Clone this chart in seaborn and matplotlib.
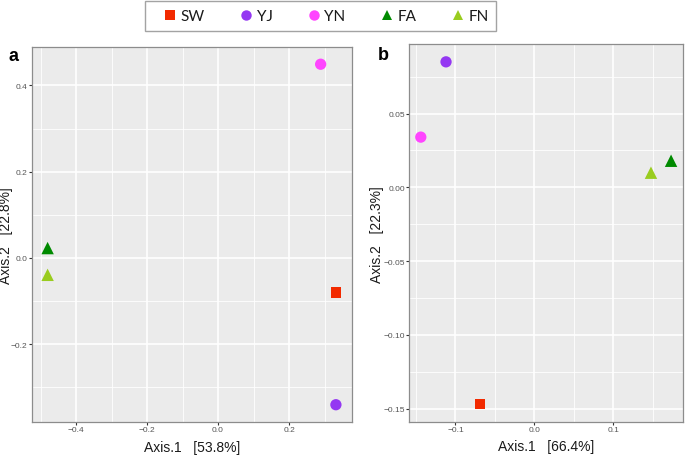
import numpy as np
import pandas as pd
import matplotlib
matplotlib.use("Agg")
import matplotlib.pyplot as plt
from matplotlib.lines import Line2D
from matplotlib.ticker import MultipleLocator
import seaborn as sns

groups = ["SW", "YJ", "YN", "FA", "FN"]
colors = ["#f22a00", "#9438f2", "#ff45ff", "#008a00", "#99cc1f"]
markers = ["s", "o", "o", "^", "^"]

# panel a (PCoA, 53.8% / 22.8%)
a_x = [0.332, 0.332, 0.289, -0.480, -0.480]
a_y = [-0.080, -0.340, 0.449, 0.023, -0.039]

# panel b (PCoA, 66.4% / 22.3%)
b_x = [-0.069, -0.112, -0.144, 0.1735, 0.148]
b_y = [-0.147, 0.085, 0.034, 0.018, 0.0099]

sns.set_theme(style="white")
plt.rcParams["font.family"] = ["Liberation Sans", "DejaVu Sans"]

palette = dict(zip(groups, colors))
mk = dict(zip(groups, markers))
sizes = {"s": 56, "o": 66, "^": 80}

fig = plt.figure(figsize=(6.85, 4.56), dpi=100)
ax_a = fig.add_axes([0.0467, 0.0724, 0.467, 0.8224])
ax_b = fig.add_axes([0.5975, 0.0724, 0.400, 0.8283])


def draw_panel(ax, xs, ys, xlab, ylab, xlim, ylim, xmaj, ymaj, letter,
               ylab_x, xlab_y, let_xy):
    df = pd.DataFrame({"x": xs, "y": ys, "group": groups})
    for g in groups:
        sub = df[df["group"] == g]
        sns.scatterplot(data=sub, x="x", y="y", color=palette[g], marker=mk[g],
                        s=sizes[mk[g]], edgecolor="none", linewidth=0, ax=ax,
                        legend=False, zorder=3)
    ax.set_facecolor("#ebebeb")
    ax.set_xlim(xlim)
    ax.set_ylim(ylim)
    ax.xaxis.set_major_locator(MultipleLocator(xmaj))
    ax.xaxis.set_minor_locator(MultipleLocator(xmaj / 2))
    ax.yaxis.set_major_locator(MultipleLocator(ymaj))
    ax.yaxis.set_minor_locator(MultipleLocator(ymaj / 2))
    ax.set_axisbelow(True)
    ax.grid(which="major", color="white", linewidth=1.2)
    ax.grid(which="minor", color="white", linewidth=0.6)
    ax.tick_params(which="major", direction="out", length=2, width=0.8,
                   color="#333333", labelsize=6, labelcolor="#555555",
                   bottom=True, left=True, pad=1.2)
    ax.tick_params(which="minor", length=0)
    for sp in ax.spines.values():
        sp.set_color("#8c8c8c")
        sp.set_linewidth(0.9)
    ax.set_xlabel(xlab, fontsize=10, color="#1a1a1a", va="center")
    ax.set_ylabel(ylab, fontsize=10, color="#1a1a1a", va="center")
    ax.xaxis.set_label_coords(0.5, xlab_y)
    ax.yaxis.set_label_coords(ylab_x, 0.5)
    ax.text(let_xy[0], let_xy[1], letter, transform=ax.transAxes, fontsize=13,
            fontweight="bold", ha="center", va="center", color="black")


draw_panel(ax_a, a_x, a_y, "Axis.1   [53.8%]", "Axis.2   [22.8%]",
           (-0.524, 0.377), (-0.38, 0.489), 0.2, 0.2, "a",
           -0.080, -0.067, (-0.059, 0.976))
draw_panel(ax_b, b_x, b_y, "Axis.1   [66.4%]", "Axis.2   [22.3%]",
           (-0.1586, 0.189), (-0.159, 0.0969), 0.1, 0.05, "b",
           -0.117, -0.063, (-0.096, 0.972))

handles = [Line2D([], [], linestyle="none", marker=mk[g], color=palette[g],
                  markersize=7.5 if mk[g] != "s" else 7, markeredgewidth=0)
           for g in groups]
leg = fig.legend(handles, groups, ncol=5, loc="center",
                 bbox_to_anchor=(0.4685, 0.963), frameon=True, fancybox=False,
                 edgecolor="#8c8c8c", handlelength=2.2,
                 handletextpad=-0.4, columnspacing=1.6, borderpad=0.5,
                 prop={"family": ["Lato", "DejaVu Sans"], "size": 11})
leg.get_frame().set_linewidth(1.0)
for t in leg.get_texts():
    t.set_color("#1a1a1a")

fig.savefig("out.png", dpi=100)
